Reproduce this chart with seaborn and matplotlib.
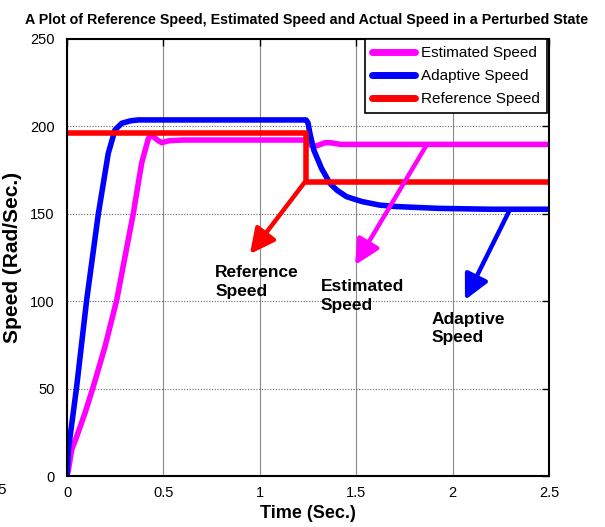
import matplotlib
matplotlib.use("Agg")
import matplotlib.pyplot as plt
import seaborn as sns
import pandas as pd
import numpy as np

# ---------------- data ----------------
t_est = [0.0, 0.007, 0.024, 0.05, 0.093, 0.136, 0.197, 0.258, 0.30, 0.344, 0.387,
         0.422, 0.439, 0.465, 0.491, 0.53, 0.60, 1.0, 1.24, 1.26, 1.28, 1.31, 1.34, 1.37,
         1.42, 1.60, 2.0, 2.5]
v_est = [0.0, 3.4, 14.9, 22.5, 35.9, 51.0, 74.0, 100.7, 125.0, 150.3, 178.9,
         193.1, 195.0, 192.5, 190.7, 191.8, 192.2, 192.2, 192.2, 189.5, 188.4, 189.5, 190.7, 190.6,
         189.7, 189.7, 189.7, 189.7]

t_ada = [0.0, 0.007, 0.05, 0.102, 0.163, 0.214, 0.249, 0.284, 0.33, 0.37, 1.0, 1.24,
         1.25, 1.26, 1.28, 1.32, 1.364, 1.40, 1.45, 1.53, 1.62, 1.70, 1.80, 1.93, 2.2, 2.5]
v_ada = [0.0, 14.9, 51.0, 100.7, 150.3, 184.6, 198.0, 201.8, 203.2, 203.7, 203.7, 203.7,
         202.0, 196.0, 186.5, 176.0, 167.4, 163.5, 159.8, 157.0, 155.0, 154.2, 153.7, 153.1,
         152.6, 152.6]

t_ref = [0.0, 1.24, 1.24, 2.5]
v_ref = [196.0, 196.0, 168.0, 168.0]

series_names = ["Estimated Speed", "Adaptive Speed", "Reference Speed"]
series_colors = ["#ff00ff", "#0000ff", "#ff0000"]

x_ticks = [0, 0.5, 1, 1.5, 2, 2.5]
x_tick_labels = ["0", "0.5", "1", "1.5", "2", "2.5"]
y_ticks = [0, 50, 100, 150, 200, 250]
y_tick_labels = ["0", "50", "100", "150", "200", "250"]

title = "A Plot of Reference Speed, Estimated Speed and Actual Speed in a Perturbed State"
x_label = "Time (Sec.)"
y_label = "Speed (Rad/Sec.)"

# annotations: (text, text_xy, arrow_tail_xy, arrow_tip_xy, color)
notes = [
    ("Reference\nSpeed", (0.768, 120.7), (1.234, 168.2), (0.949, 127.0), "#ff0000"),
    ("Estimated\nSpeed", (1.316, 112.5), (1.867, 189.7), (1.494, 120.7), "#ff00ff"),
    ("Adaptive\nSpeed", (1.892, 94.0), (2.298, 152.6), (2.064, 100.7), "#0000ff"),
]

# ---------------- build long table ----------------
frames = []
for name, t, v in zip(series_names, [t_est, t_ada, t_ref], [v_est, v_ada, v_ref]):
    frames.append(pd.DataFrame({"Time": t, "Speed": v, "Series": name}))
df = pd.concat(frames, ignore_index=True)

sns.set_theme(style="white")
plt.rcParams["font.family"] = ["Liberation Sans", "DejaVu Sans"]
plt.rcParams["text.color"] = "black"

fig = plt.figure(figsize=(6.05, 5.27), dpi=100)
ax = fig.add_axes([67 / 605, 51 / 527, 482 / 605, 437 / 527])

sns.lineplot(data=df, x="Time", y="Speed", hue="Series", hue_order=series_names,
             palette=dict(zip(series_names, series_colors)), estimator=None,
             sort=False, linewidth=4.0, ax=ax, legend=True)

ax.set_xlim(0, 2.5)
ax.set_ylim(0, 250)
ax.set_xticks(x_ticks)
ax.set_xticklabels(x_tick_labels)
ax.set_yticks(y_ticks)
ax.set_yticklabels(y_tick_labels)
ax.tick_params(direction="in", length=5, width=1, top=True, right=True,
               labelsize=10.5, colors="black")
ax.tick_params(axis="y", pad=9)
ax.tick_params(axis="x", pad=7)

ax.xaxis.grid(True, color="#8a8a8a", linestyle="-", linewidth=0.8)
ax.yaxis.grid(True, color="#666666", linestyle=(0, (1, 1.5)), linewidth=0.8)
ax.set_axisbelow(True)
for s in ax.spines.values():
    s.set_color("black")
    s.set_linewidth(1.5)

ax.set_xlabel(x_label, fontsize=13, fontweight="bold", labelpad=4, color="black")
ax.set_ylabel(y_label, fontsize=15, fontweight="bold", labelpad=6, color="black")
ax.set_title(title, fontsize=10.3, fontweight="bold", pad=11, x=0.496, color="black")

handles, labels = ax.get_legend_handles_labels()
leg = ax.legend(handles, labels, loc="upper right", bbox_to_anchor=(0.995, 1.0),
                fontsize=11, frameon=True, fancybox=False, framealpha=1,
                edgecolor="black", borderpad=0.45, handlelength=2.8,
                handletextpad=0.4, labelspacing=0.6, borderaxespad=0.0)
leg.get_frame().set_linewidth(1.2)
for line in leg.get_lines():
    line.set_linewidth(5)

for text, txy, tail, tip, col in notes:
    ax.annotate("", xy=tip, xytext=tail,
                arrowprops=dict(arrowstyle="-|>,head_length=1.0,head_width=0.5",
                                color=col, lw=3.2, mutation_scale=15,
                                shrinkA=0, shrinkB=0), zorder=6)
    ax.text(txy[0], txy[1], text, ha="left", va="top", fontsize=12.5,
            fontweight="bold", color="black", linespacing=1.3, zorder=7)

fig.text(-0.004, 1 - 490 / 527, "5", ha="left", va="center", fontsize=11, color="black")

fig.savefig("out.png", dpi=100)
